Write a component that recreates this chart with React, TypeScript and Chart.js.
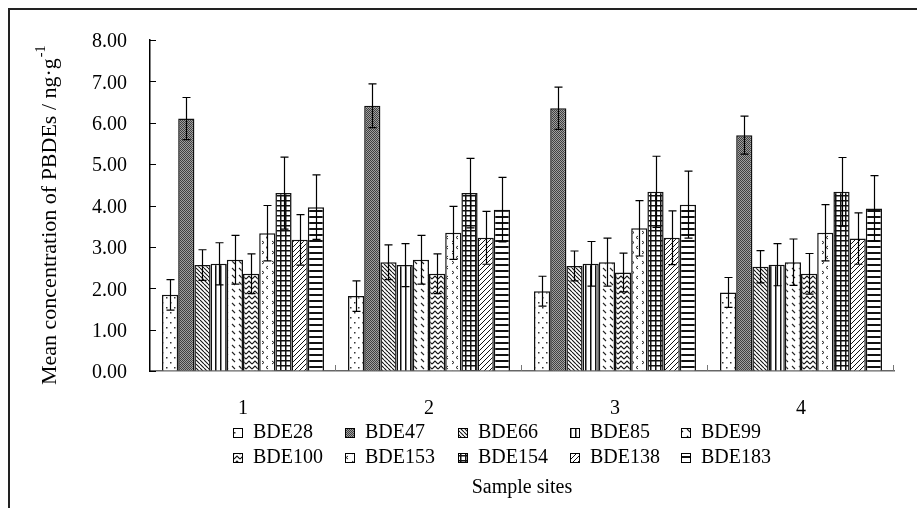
import React, { useEffect, useRef } from "react";
import { Chart, registerables } from "chart.js";

Chart.register(...registerables);

// ---------- data ----------
const sites = ["1", "2", "3", "4"];
const seriesNames = [
  "BDE28", "BDE47", "BDE66", "BDE85", "BDE99",
  "BDE100", "BDE153", "BDE154", "BDE138", "BDE183",
];
const yTicks = [0, 1, 2, 3, 4, 5, 6, 7, 8];

const bde28 = [1.84, 1.81, 1.93, 1.9];
const bde47 = [6.1, 6.41, 6.35, 5.7];
const bde66 = [2.56, 2.63, 2.54, 2.52];
const bde85 = [2.59, 2.56, 2.59, 2.57];
const bde99 = [2.69, 2.69, 2.63, 2.63];
const bde100 = [2.35, 2.35, 2.38, 2.35];
const bde153 = [3.33, 3.34, 3.45, 3.34];
const bde154 = [4.3, 4.3, 4.33, 4.33];
const bde138 = [3.17, 3.22, 3.22, 3.2];
const bde183 = [3.96, 3.9, 4.02, 3.93];

const bde28Err = [0.37, 0.37, 0.36, 0.36];
const bde47Err = [0.51, 0.53, 0.51, 0.46];
const bde66Err = [0.37, 0.42, 0.36, 0.39];
const bde85Err = [0.51, 0.52, 0.54, 0.51];
const bde99Err = [0.59, 0.59, 0.58, 0.56];
const bde100Err = [0.48, 0.48, 0.47, 0.49];
const bde153Err = [0.67, 0.64, 0.67, 0.68];
const bde154Err = [0.87, 0.84, 0.86, 0.83];
const bde138Err = [0.61, 0.64, 0.65, 0.62];
const bde183Err = [0.78, 0.78, 0.81, 0.79];

const seriesValues = [bde28, bde47, bde66, bde85, bde99, bde100, bde153, bde154, bde138, bde183];
const seriesErrors = [
  bde28Err, bde47Err, bde66Err, bde85Err, bde99Err,
  bde100Err, bde153Err, bde154Err, bde138Err, bde183Err,
];

const yTitleMain = "Mean concentration of PBDEs / ng·g";
const yTitleSup = "-1";
const xTitle = "Sample sites";

// ---------- styles ----------
const FONT = '"Liberation Serif", "Times New Roman", serif';
const INK = "#111";

type Painter = { w: number; h: number; paint: (c: CanvasRenderingContext2D, w: number, h: number) => void };

const diag = (c: CanvasRenderingContext2D, w: number, h: number, up: boolean, lw: number) => {
  c.strokeStyle = INK;
  c.lineWidth = lw;
  c.beginPath();
  for (let k = -1; k <= 1; k++) {
    if (up) {
      c.moveTo(k * w, h);
      c.lineTo(k * w + w, 0);
    } else {
      c.moveTo(k * w, 0);
      c.lineTo(k * w + w, h);
    }
  }
  c.stroke();
};

const painters: Painter[] = [
  // BDE28 sparse dots
  { w: 8, h: 10, paint: (c) => { c.fillStyle = "#333"; c.fillRect(2, 2, 1.5, 1.5); c.fillRect(6, 7, 1.5, 1.5); } },
  // BDE47 dense dark dither
  { w: 2, h: 2, paint: (c) => { c.fillStyle = "#a0a0a0"; c.fillRect(0, 0, 2, 2); c.fillStyle = "#404040"; c.fillRect(0, 0, 1, 1); c.fillRect(1, 1, 1, 1); } },
  // BDE66 dense backslash
  { w: 4, h: 4, paint: (c, w, h) => diag(c, w, h, false, 1.1) },
  // BDE85 vertical lines
  { w: 5, h: 4, paint: (c) => { c.fillStyle = INK; c.fillRect(0, 0, 1.5, 4); } },
  // BDE99 short dashes
  { w: 7, h: 7, paint: (c) => { c.strokeStyle = "#222"; c.lineWidth = 1.1; c.beginPath(); c.moveTo(1, 2); c.lineTo(4, 5); c.stroke(); } },
  // BDE100 zigzag
  { w: 6, h: 5, paint: (c) => { c.strokeStyle = INK; c.lineWidth = 1.1; c.beginPath(); c.moveTo(0, 4); c.lineTo(3, 1); c.lineTo(6, 4); c.stroke(); } },
  // BDE153 < > marks
  { w: 10, h: 10, paint: (c) => {
    c.strokeStyle = "#222"; c.lineWidth = 1; c.beginPath();
    c.moveTo(2, 1); c.lineTo(4, 2.5); c.lineTo(2, 4);
    c.moveTo(8, 6); c.lineTo(6, 7.5); c.lineTo(8, 9);
    c.stroke();
  } },
  // BDE154 grid
  { w: 5, h: 5, paint: (c) => { c.fillStyle = INK; c.fillRect(0, 0, 5, 1.5); c.fillRect(0, 0, 1.5, 5); } },
  // BDE138 slash
  { w: 5, h: 5, paint: (c, w, h) => diag(c, w, h, true, 1) },
  // BDE183 horizontal lines
  { w: 4, h: 6, paint: (c) => { c.fillStyle = INK; c.fillRect(0, 0, 4, 2); } },
];

function makePattern(ctx: CanvasRenderingContext2D, p: Painter): CanvasPattern | string {
  const cv = document.createElement("canvas");
  cv.width = p.w;
  cv.height = p.h;
  const c = cv.getContext("2d");
  if (!c) return "#fff";
  c.fillStyle = "#fff";
  c.fillRect(0, 0, p.w, p.h);
  p.paint(c, p.w, p.h);
  return ctx.createPattern(cv, "repeat") || "#fff";
}

// ---------- layout constants ----------
const PLOT_LEFT = 150;
const PLOT_TOP = 40;
const PLOT_BOTTOM = 371;
const PLOT_RIGHT = 894;
const W = 917;
const H = 508;

const overlayPlugin = {
  id: "overlay",
  afterDatasetsDraw(chart: any) {
    const ctx: CanvasRenderingContext2D = chart.ctx;
    const ys = chart.scales.y;
    ctx.save();
    ctx.strokeStyle = "#000";
    ctx.lineWidth = 1.2;
    chart.data.datasets.forEach((ds: any, di: number) => {
      const meta = chart.getDatasetMeta(di);
      const errs = seriesErrors[di];
      meta.data.forEach((bar: any, i: number) => {
        const v = ds.data[i] as number;
        const e = errs[i];
        const x = Math.round(bar.x) + 0.5;
        const yt = ys.getPixelForValue(v + e);
        const yb = ys.getPixelForValue(v - e);
        ctx.beginPath();
        ctx.moveTo(x, yt);
        ctx.lineTo(x, yb);
        ctx.moveTo(x - 4, yt);
        ctx.lineTo(x + 4, yt);
        ctx.moveTo(x - 4, yb);
        ctx.lineTo(x + 4, yb);
        ctx.stroke();
      });
    });
    ctx.restore();
  },
  afterDraw(chart: any) {
    const ctx: CanvasRenderingContext2D = chart.ctx;
    const ys = chart.scales.y;
    const area = chart.chartArea;
    ctx.save();
    // inside y ticks
    ctx.strokeStyle = "#000";
    ctx.lineWidth = 1;
    yTicks.forEach((t) => {
      const y = Math.round(ys.getPixelForValue(t)) + 0.5;
      ctx.beginPath();
      ctx.moveTo(area.left, y);
      ctx.lineTo(area.left + 6, y);
      ctx.stroke();
    });
    // inside x ticks at category boundaries
    ctx.strokeStyle = "#777";
    const n = sites.length;
    for (let k = 1; k <= n; k++) {
      const x = Math.round(area.left + ((area.right - area.left) * k) / n) - 0.5;
      ctx.beginPath();
      ctx.moveTo(x, area.bottom);
      ctx.lineTo(x, area.bottom - 6);
      ctx.stroke();
    }
    ctx.restore();

    // y title with superscript
    ctx.save();
    ctx.fillStyle = "#000";
    ctx.translate(50, 385);
    ctx.rotate(-Math.PI / 2);
    ctx.textBaseline = "middle";
    ctx.textAlign = "left";
    ctx.font = `22px ${FONT}`;
    ctx.fillText(yTitleMain, 0, 0);
    const w1 = ctx.measureText(yTitleMain).width;
    ctx.font = `14px ${FONT}`;
    ctx.fillText(yTitleSup, w1 + 1, -9);
    ctx.restore();

    // legend grid
    ctx.save();
    ctx.textBaseline = "middle";
    ctx.textAlign = "left";
    const colX = [233, 345, 458, 570, 681];
    const rowY = [433, 458];
    chart.data.datasets.forEach((ds: any, i: number) => {
      const col = i % 5;
      const row = Math.floor(i / 5);
      const bx = colX[col];
      const by = rowY[row] - 5;
      ctx.fillStyle = ds.backgroundColor;
      ctx.fillRect(bx, by, 9, 9);
      ctx.strokeStyle = "#000";
      ctx.lineWidth = 1;
      ctx.strokeRect(bx + 0.5, by + 0.5, 9, 9);
      ctx.fillStyle = "#000";
      ctx.font = `20px ${FONT}`;
      ctx.fillText(ds.label, bx + 20, rowY[row]);
    });
    ctx.restore();
  },
};

export default function App() {
  const ref = useRef<HTMLCanvasElement | null>(null);

  useEffect(() => {
    const canvas = ref.current;
    if (!canvas) return;
    const ctx = canvas.getContext("2d");
    if (!ctx) return;
    const datasets = seriesNames.map((name, i) => ({
      label: name,
      data: seriesValues[i],
      backgroundColor: makePattern(ctx, painters[i]) as any,
      borderColor: INK,
      borderWidth: 1.5,
      categoryPercentage: 0.871,
      barPercentage: 1.0,
    }));

    const chart = new Chart(canvas, {
      type: "bar",
      data: { labels: sites, datasets },
      options: {
        animation: false,
        responsive: false,
        layout: { padding: { left: 0, right: W - PLOT_RIGHT, top: PLOT_TOP, bottom: 0 } },
        plugins: {
          legend: { display: false },
          tooltip: { enabled: false },
        },
        scales: {
          x: {
            grid: { display: true, drawOnChartArea: false, drawTicks: false },
            border: { display: true, color: "#666", width: 1.5 },
            ticks: { color: "#000", font: { family: FONT, size: 20 }, padding: 26 },
            title: {
              display: true,
              text: xTitle,
              color: "#000",
              font: { family: FONT, size: 20 },
              padding: { top: 0, bottom: 8 },
            },
            afterFit: (scale: any) => {
              scale.height = H - PLOT_BOTTOM;
            },
          },
          y: {
            min: 0,
            max: 8,
            grid: { display: true, drawOnChartArea: false, drawTicks: false },
            border: { display: true, color: "#000", width: 1.5 },
            ticks: {
              stepSize: 1,
              color: "#000",
              padding: 23,
              labelOffset: 2,
              font: { family: FONT, size: 20 },
              callback: (v: any) => Number(v).toFixed(2),
            },
            afterFit: (scale: any) => {
              scale.width = PLOT_LEFT;
            },
          },
        },
      },
      plugins: [overlayPlugin],
    });
    return () => chart.destroy();
  }, []);

  return (
    <div>
      <div
        style={{
          position: "fixed",
          left: 8,
          top: 8,
          width: 2000,
          height: 2000,
          borderTop: "2px solid #222",
          borderLeft: "2px solid #222",
          pointerEvents: "none",
        }}
      />
      <canvas
        ref={ref}
        width={W}
        height={H}
        style={{ position: "fixed", left: 0, top: 0, width: W, height: H, display: "block" }}
      />
    </div>
  );
}
